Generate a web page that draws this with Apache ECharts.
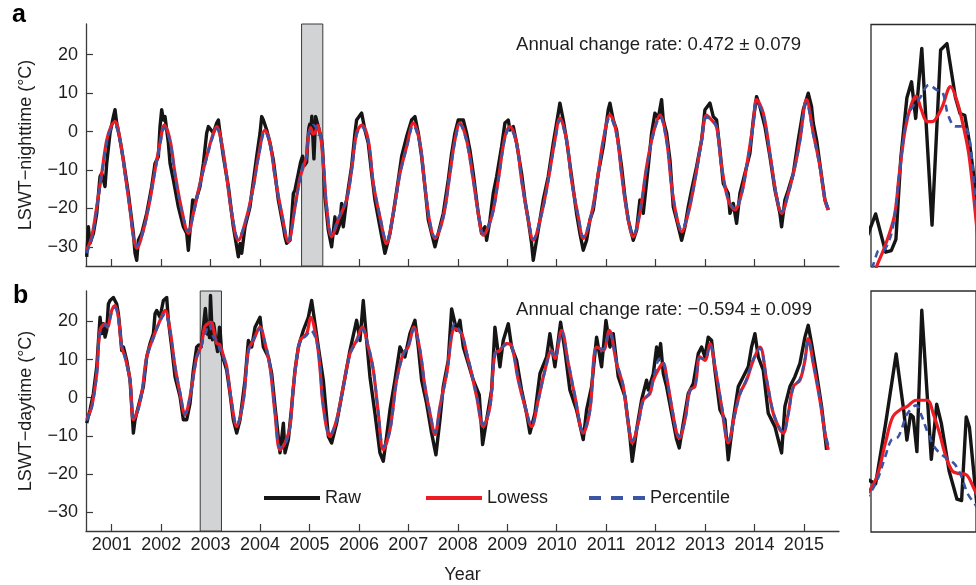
<!DOCTYPE html>
<html><head><meta charset="utf-8">
<script src="https://cdn.jsdelivr.net/npm/echarts@6/dist/echarts.min.js"></script>
<style>html,body{margin:0;padding:0;background:#fff}#c{width:976px;height:585px}</style>
</head><body><div id="c"></div>
<script>
// ---------- data (decimal year, °C) ----------
const yearTicks = [2001,2002,2003,2004,2005,2006,2007,2008,2009,2010,2011,2012,2013,2014,2015];
const tempTicks = [-30,-20,-10,0,10,20];
const grayNight = [2004.84, 2005.27];
const grayDay = [2002.79, 2003.22];
const rateNight = 'Annual change rate: 0.472 ± 0.079';
const rateDay = 'Annual change rate: \u22120.594 ± 0.099';
const seriesNames = ['Raw','Lowess','Percentile'];

const nightRaw = [[2000.494,-32.6],[2000.528,-24.8],[2000.562,-29.1],[2000.629,-26.5],[2000.697,-21.3],[2000.764,-11.7],[2000.798,-10.9],[2000.865,-14.3],[2000.899,-8.3],[2000.966,-0.4],[2001.034,3.9],[2001.067,5.7],[2001.101,2.2],[2001.169,-2.2],[2001.236,-7.4],[2001.337,-16.1],[2001.404,-23.0],[2001.438,-26.5],[2001.472,-31.7],[2001.506,-33.5],[2001.539,-28.3],[2001.607,-26.5],[2001.708,-21.3],[2001.809,-14.3],[2001.876,-8.3],[2001.944,-6.5],[2001.977,1.3],[2002.011,5.7],[2002.045,3.0],[2002.078,3.9],[2002.146,-3.0],[2002.180,-8.3],[2002.247,-12.6],[2002.348,-19.6],[2002.449,-24.8],[2002.517,-26.5],[2002.550,-30.9],[2002.584,-25.7],[2002.638,-17.8],[2002.685,-18.7],[2002.786,-14.3],[2002.854,-8.3],[2002.921,-0.4],[2002.955,1.3],[2003.056,-0.4],[2003.123,2.2],[2003.157,3.0],[2003.191,-0.4],[2003.258,-6.5],[2003.359,-14.3],[2003.460,-24.8],[2003.528,-30.0],[2003.561,-32.6],[2003.595,-29.1],[2003.629,-31.7],[2003.696,-24.8],[2003.797,-19.6],[2003.831,-16.1],[2003.932,-6.5],[2004.000,-0.4],[2004.033,3.9],[2004.067,3.0],[2004.135,0.4],[2004.202,-3.0],[2004.269,-7.4],[2004.370,-17.8],[2004.472,-24.8],[2004.505,-27.4],[2004.539,-29.1],[2004.606,-28.3],[2004.674,-16.1],[2004.707,-15.2],[2004.775,-10.9],[2004.820,-8.0],[2004.859,-6.4],[2004.900,-8.8],[2004.923,-8.7],[2004.942,-8.0],[2004.962,-2.9],[2004.987,0.9],[2005.006,1.9],[2005.023,-0.4],[2005.048,4.0],[2005.090,-7.1],[2005.125,3.9],[2005.151,4.3],[2005.186,0.9],[2005.205,-0.1],[2005.224,-0.2],[2005.243,-1.9],[2005.265,-4.5],[2005.313,-17.0],[2005.381,-25.7],[2005.448,-30.0],[2005.515,-22.2],[2005.549,-26.5],[2005.616,-23.9],[2005.650,-18.7],[2005.684,-24.8],[2005.751,-17.8],[2005.852,-9.1],[2005.920,-0.4],[2005.953,3.0],[2006.055,4.8],[2006.122,0.4],[2006.189,-3.0],[2006.257,-10.9],[2006.324,-17.8],[2006.425,-24.8],[2006.526,-31.7],[2006.560,-30.0],[2006.628,-26.5],[2006.695,-21.3],[2006.796,-12.6],[2006.864,-6.5],[2006.897,-4.8],[2006.965,-1.3],[2007.066,3.0],[2007.133,3.9],[2007.201,-0.4],[2007.268,-6.5],[2007.335,-14.3],[2007.403,-23.0],[2007.470,-26.5],[2007.538,-30.0],[2007.605,-26.5],[2007.706,-21.3],[2007.807,-12.6],[2007.875,-5.7],[2007.942,-0.4],[2008.009,3.0],[2008.111,3.0],[2008.178,-0.4],[2008.245,-4.8],[2008.313,-10.9],[2008.414,-21.3],[2008.481,-26.5],[2008.549,-24.8],[2008.583,-28.3],[2008.650,-23.0],[2008.717,-16.1],[2008.785,-11.7],[2008.886,-3.9],[2008.953,2.2],[2009.021,3.0],[2009.054,0.4],[2009.122,1.3],[2009.189,-3.0],[2009.290,-10.9],[2009.358,-17.8],[2009.425,-23.0],[2009.492,-29.1],[2009.526,-33.5],[2009.593,-28.3],[2009.661,-23.0],[2009.728,-17.8],[2009.829,-11.7],[2009.931,-3.0],[2010.032,4.8],[2010.065,7.4],[2010.133,3.0],[2010.200,-2.2],[2010.301,-11.7],[2010.402,-21.3],[2010.470,-26.5],[2010.537,-30.9],[2010.605,-28.3],[2010.672,-23.0],[2010.740,-20.4],[2010.841,-10.9],[2010.942,-3.9],[2011.043,5.7],[2011.077,7.4],[2011.144,3.0],[2011.211,0.4],[2011.312,-9.1],[2011.380,-17.0],[2011.447,-23.0],[2011.515,-26.5],[2011.549,-28.3],[2011.616,-25.7],[2011.683,-17.8],[2011.751,-21.3],[2011.852,-9.1],[2011.920,-0.4],[2011.987,4.8],[2012.055,3.5],[2012.122,8.3],[2012.156,3.0],[2012.223,-0.4],[2012.291,-7.4],[2012.358,-19.6],[2012.426,-23.0],[2012.493,-26.5],[2012.527,-28.3],[2012.594,-24.8],[2012.661,-19.6],[2012.729,-15.2],[2012.830,-9.1],[2012.931,-2.2],[2012.999,5.7],[2013.100,7.4],[2013.167,3.9],[2013.234,3.0],[2013.302,-4.8],[2013.369,-13.5],[2013.470,-16.1],[2013.504,-21.3],[2013.571,-18.7],[2013.639,-23.9],[2013.706,-16.1],[2013.807,-10.9],[2013.908,-5.7],[2013.976,3.0],[2014.043,9.1],[2014.111,6.5],[2014.212,1.3],[2014.313,-6.5],[2014.414,-15.2],[2014.515,-21.3],[2014.549,-24.8],[2014.616,-17.8],[2014.684,-15.2],[2014.785,-10.9],[2014.886,-2.2],[2014.987,5.7],[2015.088,10.0],[2015.155,6.5],[2015.189,2.2],[2015.257,-2.2],[2015.358,-11.7],[2015.425,-17.8],[2015.493,-20.4]];

const nightLowess = [[2000.494,-30.9],[2000.596,-27.4],[2000.697,-19.6],[2000.798,-10.9],[2000.899,-2.2],[2000.990,1.5],[2001.067,2.6],[2001.169,-2.2],[2001.270,-10.9],[2001.371,-20.4],[2001.440,-27.5],[2001.506,-30.4],[2001.640,-25.7],[2001.775,-17.8],[2001.876,-10.0],[2001.977,-3.0],[2002.065,1.7],[2002.180,-2.2],[2002.281,-10.9],[2002.416,-20.4],[2002.550,-26.5],[2002.651,-21.3],[2002.786,-13.5],[2002.921,-6.5],[2003.056,-0.4],[2003.123,1.3],[2003.224,-3.0],[2003.326,-11.7],[2003.427,-21.3],[2003.561,-28.3],[2003.730,-22.2],[2003.865,-14.3],[2003.966,-6.5],[2004.101,0.4],[2004.202,-3.0],[2004.303,-11.7],[2004.438,-21.3],[2004.573,-28.7],[2004.707,-19.6],[2004.800,-12.5],[2004.863,-9.7],[2004.898,-8.4],[2004.936,-6.5],[2004.955,-4.0],[2004.981,-1.0],[2005.006,0.5],[2005.025,1.0],[2005.045,0.2],[2005.070,-0.6],[2005.090,-0.6],[2005.128,0.2],[2005.166,1.6],[2005.192,0.7],[2005.217,-0.8],[2005.243,-2.9],[2005.290,-10.0],[2005.350,-20.0],[2005.448,-27.4],[2005.583,-23.0],[2005.751,-17.8],[2005.852,-10.0],[2005.953,-0.4],[2006.055,1.7],[2006.189,-2.2],[2006.291,-13.5],[2006.425,-22.2],[2006.560,-29.1],[2006.695,-21.3],[2006.830,-10.9],[2006.965,-3.9],[2007.099,2.2],[2007.234,-3.0],[2007.335,-14.3],[2007.437,-23.9],[2007.538,-27.8],[2007.706,-22.2],[2007.841,-10.9],[2007.942,-2.2],[2008.043,2.2],[2008.178,-2.2],[2008.313,-12.6],[2008.414,-21.3],[2008.515,-27.0],[2008.684,-22.2],[2008.818,-12.6],[2008.953,-1.3],[2009.054,1.3],[2009.189,-3.0],[2009.290,-12.6],[2009.425,-23.0],[2009.526,-28.3],[2009.695,-21.3],[2009.829,-12.6],[2009.964,-2.2],[2010.065,3.5],[2010.200,-2.2],[2010.301,-12.6],[2010.436,-22.2],[2010.537,-27.8],[2010.706,-21.3],[2010.841,-10.9],[2010.942,-2.2],[2011.077,4.3],[2011.211,-0.4],[2011.312,-10.9],[2011.414,-20.4],[2011.549,-27.4],[2011.683,-21.3],[2011.819,-9.1],[2011.954,-0.4],[2012.088,4.3],[2012.223,-2.2],[2012.324,-14.3],[2012.426,-22.2],[2012.527,-26.1],[2012.661,-21.3],[2012.796,-12.6],[2012.931,-2.2],[2013.032,4.3],[2013.133,3.0],[2013.234,1.3],[2013.336,-9.1],[2013.470,-17.8],[2013.605,-20.4],[2013.740,-16.1],[2013.841,-9.1],[2013.976,2.2],[2014.043,8.3],[2014.178,4.8],[2014.313,-5.7],[2014.448,-17.0],[2014.549,-21.3],[2014.684,-16.1],[2014.818,-9.1],[2014.920,-2.2],[2015.054,8.3],[2015.189,-0.4],[2015.324,-9.1],[2015.425,-17.8],[2015.493,-20.4]];

const nightPercentile = [[2000.494,-31.6],[2000.596,-27.9],[2000.697,-19.9],[2000.798,-11.3],[2000.899,-2.8],[2000.990,0.8],[2001.067,1.4],[2001.169,-2.6],[2001.270,-11.2],[2001.371,-20.6],[2001.440,-27.3],[2001.506,-29.7],[2001.640,-25.9],[2001.775,-17.6],[2001.876,-10.4],[2001.977,-3.5],[2002.065,1.0],[2002.180,-2.7],[2002.281,-11.3],[2002.416,-20.6],[2002.550,-25.9],[2002.651,-21.6],[2002.786,-13.8],[2002.921,-6.9],[2003.056,-0.9],[2003.123,0.8],[2003.224,-3.3],[2003.326,-11.9],[2003.427,-21.0],[2003.561,-27.8],[2003.730,-22.5],[2003.865,-14.6],[2003.966,-6.9],[2004.101,0.0],[2004.202,-3.3],[2004.303,-11.9],[2004.438,-21.2],[2004.573,-28.2],[2004.707,-19.9],[2004.800,-12.8],[2004.866,-8.8],[2004.898,-8.6],[2004.930,-7.2],[2004.955,-4.0],[2004.987,-0.4],[2005.013,0.4],[2005.041,0.9],[2005.077,1.7],[2005.109,1.4],[2005.134,1.2],[2005.156,-0.2],[2005.186,-0.9],[2005.211,-0.9],[2005.233,-1.1],[2005.250,-2.5],[2005.290,-9.8],[2005.350,-19.5],[2005.448,-26.8],[2005.583,-22.6],[2005.751,-17.5],[2005.852,-10.4],[2005.953,-0.9],[2006.055,1.2],[2006.189,-2.6],[2006.291,-13.2],[2006.425,-22.0],[2006.560,-28.5],[2006.695,-21.6],[2006.830,-11.2],[2006.965,-4.3],[2007.099,1.6],[2007.234,-3.3],[2007.335,-14.0],[2007.437,-23.6],[2007.538,-27.5],[2007.706,-22.4],[2007.841,-11.2],[2007.942,-2.6],[2008.043,1.8],[2008.178,-2.6],[2008.313,-12.8],[2008.414,-21.0],[2008.515,-26.5],[2008.684,-22.4],[2008.818,-12.9],[2008.953,-1.7],[2009.054,0.9],[2009.189,-3.3],[2009.290,-12.8],[2009.425,-22.8],[2009.526,-28.0],[2009.695,-21.6],[2009.829,-12.9],[2009.964,-2.6],[2010.065,3.0],[2010.200,-2.5],[2010.301,-12.8],[2010.436,-22.0],[2010.537,-27.4],[2010.706,-21.5],[2010.841,-11.2],[2010.942,-2.6],[2011.077,3.8],[2011.211,-0.8],[2011.312,-11.1],[2011.414,-20.2],[2011.549,-26.9],[2011.683,-21.0],[2011.819,-9.4],[2011.954,-0.8],[2012.088,3.8],[2012.223,-2.5],[2012.324,-14.0],[2012.426,-21.9],[2012.527,-25.6],[2012.661,-21.0],[2012.796,-12.9],[2012.931,-2.6],[2013.032,3.7],[2013.133,3.2],[2013.234,1.0],[2013.336,-9.3],[2013.470,-17.5],[2013.605,-20.0],[2013.740,-16.3],[2013.841,-9.4],[2013.976,1.8],[2014.043,7.6],[2014.178,4.5],[2014.313,-5.9],[2014.448,-16.8],[2014.549,-20.8],[2014.684,-16.3],[2014.818,-9.4],[2014.920,-2.6],[2015.054,7.6],[2015.189,-0.8],[2015.324,-9.3],[2015.425,-17.5],[2015.493,-20.0]];

const dayRaw = [[2000.494,-6.7],[2000.562,-3.2],[2000.629,1.1],[2000.697,8.1],[2000.764,21.1],[2000.798,16.8],[2000.831,19.4],[2000.865,15.9],[2000.899,17.7],[2000.933,24.6],[2000.966,25.5],[2001.034,26.3],[2001.067,25.9],[2001.101,24.6],[2001.135,22.0],[2001.169,17.7],[2001.202,12.4],[2001.236,13.3],[2001.303,9.8],[2001.371,4.6],[2001.438,-9.3],[2001.472,-5.8],[2001.539,-2.3],[2001.640,2.9],[2001.708,10.7],[2001.775,14.2],[2001.843,16.8],[2001.876,22.0],[2001.910,22.9],[2001.977,21.1],[2002.045,25.5],[2002.112,26.3],[2002.146,20.3],[2002.213,13.3],[2002.281,5.5],[2002.382,0.3],[2002.449,-5.8],[2002.517,-5.8],[2002.584,-1.5],[2002.651,7.2],[2002.719,13.3],[2002.760,13.8],[2002.809,13.3],[2002.850,18.0],[2002.893,23.4],[2002.924,19.0],[2002.937,16.7],[2002.952,18.7],[2002.963,18.5],[2002.978,15.8],[2002.998,26.8],[2003.037,15.2],[2003.059,19.5],[2003.078,18.0],[2003.110,14.3],[2003.142,12.1],[2003.161,12.0],[2003.180,18.5],[2003.193,17.7],[2003.224,11.6],[2003.326,7.2],[2003.393,1.1],[2003.460,-5.8],[2003.528,-9.3],[2003.595,-5.8],[2003.696,4.6],[2003.764,15.0],[2003.831,13.3],[2003.899,18.5],[2004.000,21.1],[2004.067,13.3],[2004.168,10.7],[2004.236,6.3],[2004.303,-2.3],[2004.404,-14.5],[2004.472,-6.7],[2004.505,-14.5],[2004.573,-11.0],[2004.640,-2.3],[2004.707,7.2],[2004.775,13.3],[2004.876,17.7],[2004.977,21.1],[2005.044,25.5],[2005.112,19.4],[2005.179,13.3],[2005.280,4.6],[2005.382,-10.2],[2005.448,-11.9],[2005.549,-6.7],[2005.684,2.9],[2005.819,12.4],[2005.953,20.3],[2006.021,15.0],[2006.088,25.5],[2006.156,15.0],[2006.223,5.5],[2006.324,-4.1],[2006.425,-14.5],[2006.493,-16.7],[2006.560,-10.2],[2006.628,-3.2],[2006.729,4.6],[2006.830,13.3],[2006.931,10.7],[2007.032,16.8],[2007.133,20.3],[2007.201,13.3],[2007.268,4.6],[2007.369,-1.5],[2007.470,-9.3],[2007.558,-15.0],[2007.639,-5.8],[2007.706,2.9],[2007.807,9.8],[2007.875,23.3],[2007.976,17.7],[2008.043,20.3],[2008.111,13.3],[2008.212,9.0],[2008.313,4.6],[2008.434,0.7],[2008.502,-12.3],[2008.583,-5.8],[2008.684,2.0],[2008.751,18.5],[2008.852,8.1],[2008.919,15.0],[2009.021,19.4],[2009.088,13.3],[2009.189,9.8],[2009.290,2.0],[2009.391,-4.1],[2009.459,-9.3],[2009.560,-4.1],[2009.661,6.3],[2009.796,10.7],[2009.863,16.8],[2009.964,8.1],[2010.032,15.0],[2010.079,19.8],[2010.166,12.4],[2010.267,2.0],[2010.402,-3.2],[2010.537,-11.0],[2010.605,-3.2],[2010.706,2.9],[2010.807,15.9],[2010.908,8.1],[2010.996,20.3],[2011.077,13.3],[2011.144,16.8],[2011.245,5.5],[2011.380,0.3],[2011.481,-10.2],[2011.528,-16.7],[2011.616,-8.4],[2011.717,-0.6],[2011.818,4.6],[2011.853,2.0],[2011.954,6.3],[2012.021,13.3],[2012.055,9.8],[2012.102,14.2],[2012.156,6.3],[2012.223,2.9],[2012.324,-4.1],[2012.426,-11.0],[2012.479,-13.2],[2012.560,-6.7],[2012.661,1.1],[2012.763,3.7],[2012.864,11.6],[2012.931,13.3],[2012.998,10.7],[2013.066,15.9],[2013.133,15.0],[2013.201,7.2],[2013.302,-3.2],[2013.403,-5.8],[2013.470,-16.3],[2013.571,-5.8],[2013.673,2.9],[2013.774,5.5],[2013.875,8.1],[2013.942,13.3],[2014.010,16.8],[2014.077,10.7],[2014.178,7.2],[2014.279,-4.1],[2014.414,-7.6],[2014.549,-14.5],[2014.616,-2.3],[2014.717,2.9],[2014.818,5.5],[2014.920,9.0],[2015.021,15.9],[2015.088,19.0],[2015.155,14.2],[2015.257,6.3],[2015.358,-2.3],[2015.459,-13.7]];

const dayLowess = [[2000.494,-5.8],[2000.596,-2.3],[2000.697,6.3],[2000.764,17.7],[2000.865,19.4],[2000.912,18.5],[2001.000,22.9],[2001.067,24.2],[2001.135,21.1],[2001.202,13.3],[2001.270,10.7],[2001.371,4.6],[2001.438,-5.8],[2001.506,-4.1],[2001.607,1.1],[2001.708,10.7],[2001.843,15.9],[2001.977,20.3],[2002.079,22.9],[2002.180,17.7],[2002.281,8.1],[2002.382,1.1],[2002.483,-4.5],[2002.584,0.3],[2002.719,10.7],[2002.809,13.6],[2002.848,16.4],[2002.879,18.5],[2002.912,19.1],[2002.937,19.3],[2002.975,19.8],[2003.020,19.8],[2003.046,18.7],[2003.071,17.2],[2003.097,15.4],[2003.123,14.3],[2003.148,14.1],[2003.180,14.0],[2003.210,13.0],[2003.260,11.0],[2003.326,8.1],[2003.427,-1.5],[2003.528,-7.6],[2003.663,-0.6],[2003.764,12.4],[2003.865,15.0],[2004.000,18.5],[2004.101,14.2],[2004.202,8.1],[2004.303,-4.1],[2004.404,-13.7],[2004.505,-11.9],[2004.606,-7.6],[2004.674,2.9],[2004.808,15.0],[2004.943,16.8],[2005.024,21.1],[2005.146,15.0],[2005.210,8.1],[2005.279,-2.3],[2005.414,-10.2],[2005.549,-5.8],[2005.684,2.9],[2005.819,11.6],[2005.953,15.0],[2006.068,18.5],[2006.189,13.3],[2006.291,7.2],[2006.392,-4.1],[2006.493,-13.7],[2006.628,-8.4],[2006.762,4.6],[2006.897,11.6],[2006.998,13.3],[2007.113,18.5],[2007.234,12.4],[2007.335,2.9],[2007.437,-4.1],[2007.538,-9.7],[2007.639,-2.3],[2007.774,6.3],[2007.942,18.1],[2008.077,16.8],[2008.178,11.6],[2008.279,6.3],[2008.380,0.3],[2008.515,-7.6],[2008.650,-2.3],[2008.751,11.6],[2008.852,12.4],[2008.987,14.2],[2009.088,13.7],[2009.223,4.6],[2009.358,-2.3],[2009.492,-7.6],[2009.627,-0.6],[2009.762,7.2],[2009.897,12.4],[2009.964,10.3],[2010.099,17.7],[2010.234,9.0],[2010.369,0.3],[2010.537,-9.3],[2010.672,-3.2],[2010.807,13.3],[2010.942,12.4],[2011.063,17.7],[2011.211,9.0],[2011.346,2.9],[2011.447,-6.7],[2011.528,-11.9],[2011.649,-6.7],[2011.751,-0.6],[2011.886,1.1],[2011.954,4.6],[2012.088,8.1],[2012.156,9.0],[2012.223,5.5],[2012.324,-2.3],[2012.426,-9.3],[2012.479,-10.6],[2012.594,-5.8],[2012.695,2.0],[2012.796,2.9],[2012.897,10.7],[2012.998,9.8],[2013.100,14.2],[2013.201,8.1],[2013.336,-2.3],[2013.470,-11.9],[2013.605,-4.1],[2013.706,1.1],[2013.841,4.6],[2013.976,9.8],[2014.111,13.3],[2014.246,4.6],[2014.380,-4.1],[2014.515,-8.4],[2014.583,-9.3],[2014.684,-4.1],[2014.785,2.9],[2014.920,4.6],[2015.021,9.8],[2015.088,15.5],[2015.189,9.0],[2015.324,-0.6],[2015.425,-9.3],[2015.493,-13.7]];

const dayPercentile = [[2000.494,-6.0],[2000.596,-2.6],[2000.697,6.0],[2000.764,17.2],[2000.865,19.0],[2000.912,18.8],[2001.000,22.3],[2001.067,23.6],[2001.135,20.8],[2001.202,13.6],[2001.270,10.4],[2001.371,4.2],[2001.438,-5.2],[2001.506,-4.4],[2001.607,0.8],[2001.708,10.4],[2001.843,15.6],[2001.977,20.0],[2002.079,22.0],[2002.180,17.4],[2002.281,8.4],[2002.382,1.4],[2002.483,-4.2],[2002.584,0.0],[2002.719,10.4],[2002.809,13.3],[2002.848,15.4],[2002.873,16.7],[2002.899,16.9],[2002.918,17.7],[2002.937,18.7],[2002.975,19.4],[2002.995,18.7],[2003.020,17.4],[2003.052,16.1],[2003.091,15.4],[2003.129,14.9],[2003.155,14.1],[2003.180,12.8],[2003.193,12.3],[2003.260,10.5],[2003.326,7.8],[2003.427,-1.2],[2003.528,-7.2],[2003.663,-0.9],[2003.764,12.0],[2003.865,15.3],[2004.000,18.0],[2004.101,14.5],[2004.202,8.4],[2004.303,-3.8],[2004.404,-13.1],[2004.505,-12.3],[2004.606,-7.9],[2004.674,2.5],[2004.808,14.6],[2004.943,16.4],[2005.024,17.7],[2005.146,14.7],[2005.210,8.4],[2005.279,-2.0],[2005.414,-9.8],[2005.549,-6.1],[2005.684,2.6],[2005.819,11.3],[2005.953,14.7],[2006.068,17.9],[2006.189,13.6],[2006.291,7.5],[2006.392,-3.8],[2006.493,-12.9],[2006.628,-8.7],[2006.762,4.3],[2006.897,11.3],[2006.998,13.6],[2007.113,18.0],[2007.234,12.7],[2007.335,3.2],[2007.437,-3.8],[2007.538,-9.2],[2007.639,-2.6],[2007.774,6.0],[2007.942,19.4],[2008.077,16.5],[2008.178,11.9],[2008.279,6.6],[2008.380,0.6],[2008.515,-6.9],[2008.650,-2.6],[2008.751,11.3],[2008.852,12.7],[2008.987,13.9],[2009.088,13.4],[2009.223,4.9],[2009.358,-2.0],[2009.492,-7.2],[2009.627,-0.9],[2009.762,6.9],[2009.897,12.1],[2009.964,10.6],[2010.099,17.3],[2010.234,9.3],[2010.369,0.6],[2010.537,-8.9],[2010.672,-3.5],[2010.807,13.0],[2010.942,12.7],[2011.063,17.3],[2011.211,9.3],[2011.346,3.2],[2011.447,-6.4],[2011.528,-11.3],[2011.649,-6.9],[2011.751,-0.9],[2011.886,1.4],[2011.954,4.9],[2012.088,10.3],[2012.156,9.5],[2012.223,5.2],[2012.324,-2.0],[2012.426,-9.0],[2012.479,-10.2],[2012.594,-6.1],[2012.695,1.7],[2012.796,3.2],[2012.897,10.4],[2012.998,10.2],[2013.100,13.8],[2013.201,8.4],[2013.336,-2.0],[2013.470,-11.3],[2013.605,-4.4],[2013.706,0.8],[2013.841,4.9],[2013.976,10.1],[2014.111,13.0],[2014.246,4.9],[2014.380,-3.8],[2014.515,-8.1],[2014.583,-9.0],[2014.684,-4.4],[2014.785,2.6],[2014.920,4.9],[2015.021,10.1],[2015.088,15.0],[2015.189,9.3],[2015.324,-0.3],[2015.425,-9.0],[2015.493,-12.6]];

// inset value windows (zoom on the grey periods)
const insetNightY = [-9.7, 5.5];
const insetDayY = [9.55, 28.3];

// ---------- styling ----------
const FONT = "'Liberation Sans', Arial, Helvetica, sans-serif";
const TXT = '#1e1e1e';
const AX = '#3a3a3a';
const C_RAW = '#151515', C_LOW = '#ed1c24', C_PCT = '#3a55a6';

const chart = echarts.init(document.getElementById('c'), null, {renderer: 'canvas'});
const fmtNum = v => (v < 0 ? '\u2212' + Math.abs(v) : String(v));

function mainXAxis(gi, labels) {
  return {
    gridIndex: gi, type: 'value', min: 2000.48, max: 2015.71,
    axisLine: {onZero: false, lineStyle: {color: AX, width: 1.3}},
    axisTick: {inside: true, length: 7, customValues: yearTicks, lineStyle: {color: AX, width: 1.2}},
    axisLabel: labels ? {customValues: yearTicks, formatter: v => String(v), fontSize: 18, fontFamily: FONT, color: TXT, margin: 5} : {show: false},
    splitLine: {show: false},
    name: labels ? 'Year' : '', nameLocation: 'middle', nameGap: 35,
    nameTextStyle: {fontSize: 18, fontFamily: FONT, color: TXT}
  };
}
function mainYAxis(gi, name) {
  return {
    gridIndex: gi, type: 'value', min: -35, max: 28,
    axisLine: {show: true, onZero: false, lineStyle: {color: AX, width: 1.3}},
    axisTick: {show: true, inside: true, length: 7, customValues: tempTicks, lineStyle: {color: AX, width: 1.2}},
    axisLabel: {customValues: tempTicks, formatter: fmtNum, fontSize: 18, fontFamily: FONT, color: TXT, margin: 8},
    splitLine: {show: false},
    name: name, nameLocation: 'middle', nameGap: 51,
    nameTextStyle: {fontSize: 18, fontFamily: FONT, color: TXT}
  };
}
function insetAxes(gi, xr, yr) {
  return [
    {gridIndex: gi, type: 'value', min: xr[0], max: xr[1], show: false},
    {gridIndex: gi, type: 'value', min: yr[0], max: yr[1], show: false}
  ];
}
function lines(axisIdx, raw, low, pct, gray) {
  const out = [];
  if (gray) {
    out.push({
      type: 'line', xAxisIndex: axisIdx, yAxisIndex: axisIdx, data: [[gray[0], 0]],
      symbol: 'none', lineStyle: {opacity: 0}, silent: true, z: 1,
      markArea: {silent: true, itemStyle: {color: '#d1d3d4', borderColor: '#3a3a3a', borderWidth: 1},
        data: [[{xAxis: gray[0]}, {xAxis: gray[1]}]]}
    });
  }
  out.push({name: 'Raw', type: 'line', xAxisIndex: axisIdx, yAxisIndex: axisIdx, data: raw, symbol: 'none',
    lineStyle: {color: C_RAW, width: 3.4, join: 'round'}, itemStyle: {color: C_RAW}, z: 2});
  out.push({name: 'Lowess', type: 'line', xAxisIndex: axisIdx, yAxisIndex: axisIdx, data: low, symbol: 'none', smooth: 0.35,
    lineStyle: {color: C_LOW, width: 3.2}, itemStyle: {color: C_LOW}, z: 3});
  out.push({name: 'Percentile', type: 'line', xAxisIndex: axisIdx, yAxisIndex: axisIdx, data: pct, symbol: 'none', smooth: 0.35,
    lineStyle: {color: C_PCT, width: 2.6, type: [7, 5]}, itemStyle: {color: C_PCT}, z: 4});
  return out;
}

const inA = insetAxes(2, [grayNight[0], grayNight[1]], insetNightY);
const inB = insetAxes(3, [grayDay[0], grayDay[1]], insetDayY);

function legendAt(left, name, dash) {
  return {left: left, top: 489, orient: 'horizontal', itemWidth: 56, itemHeight: 14, selectedMode: false, padding: 0,
    data: [name], textStyle: {fontSize: 18, fontFamily: FONT, color: TXT},
    itemStyle: {opacity: 0}, lineStyle: {width: 4, type: dash || 'solid'}};
}

chart.setOption({
  animation: false,
  backgroundColor: '#fff',
  grid: [
    {left: 86, top: 24, width: 753, height: 242},
    {left: 86, top: 291, width: 753, height: 241},
    {left: 871, top: 24.5, width: 118, height: 242, show: true, borderColor: '#2a2a2a', borderWidth: 1.3, backgroundColor: 'transparent'},
    {left: 871, top: 291, width: 118, height: 241, show: true, borderColor: '#2a2a2a', borderWidth: 1.3, backgroundColor: 'transparent'}
  ],
  xAxis: [mainXAxis(0, false), mainXAxis(1, true), inA[0], inB[0]],
  yAxis: [mainYAxis(0, 'LSWT\u2212nighttime (\u00b0C)'), mainYAxis(1, 'LSWT\u2212daytime (\u00b0C)'), inA[1], inB[1]],
  legend: [
    legendAt(262, seriesNames[0]),
    legendAt(424, seriesNames[1]),
    legendAt(587, seriesNames[2], [12, 10])
  ],
  graphic: [
    {type: 'text', left: 12, top: 3, style: {text: 'a', font: 'bold 25px ' + FONT, fill: '#000'}},
    {type: 'text', left: 13, top: 284, style: {text: 'b', font: 'bold 25px ' + FONT, fill: '#000'}},
    {type: 'text', left: 516, top: 35, style: {text: rateNight, font: '18.6px ' + FONT, fill: TXT}},
    {type: 'text', left: 516, top: 300, style: {text: rateDay, font: '18.6px ' + FONT, fill: TXT}}
  ],
  series: [].concat(
    lines(0, nightRaw, nightLowess, nightPercentile, grayNight),
    lines(1, dayRaw, dayLowess, dayPercentile, grayDay),
    lines(2, nightRaw, nightLowess, nightPercentile, null),
    lines(3, dayRaw, dayLowess, dayPercentile, null)
  )
});
</script>
</body></html>
